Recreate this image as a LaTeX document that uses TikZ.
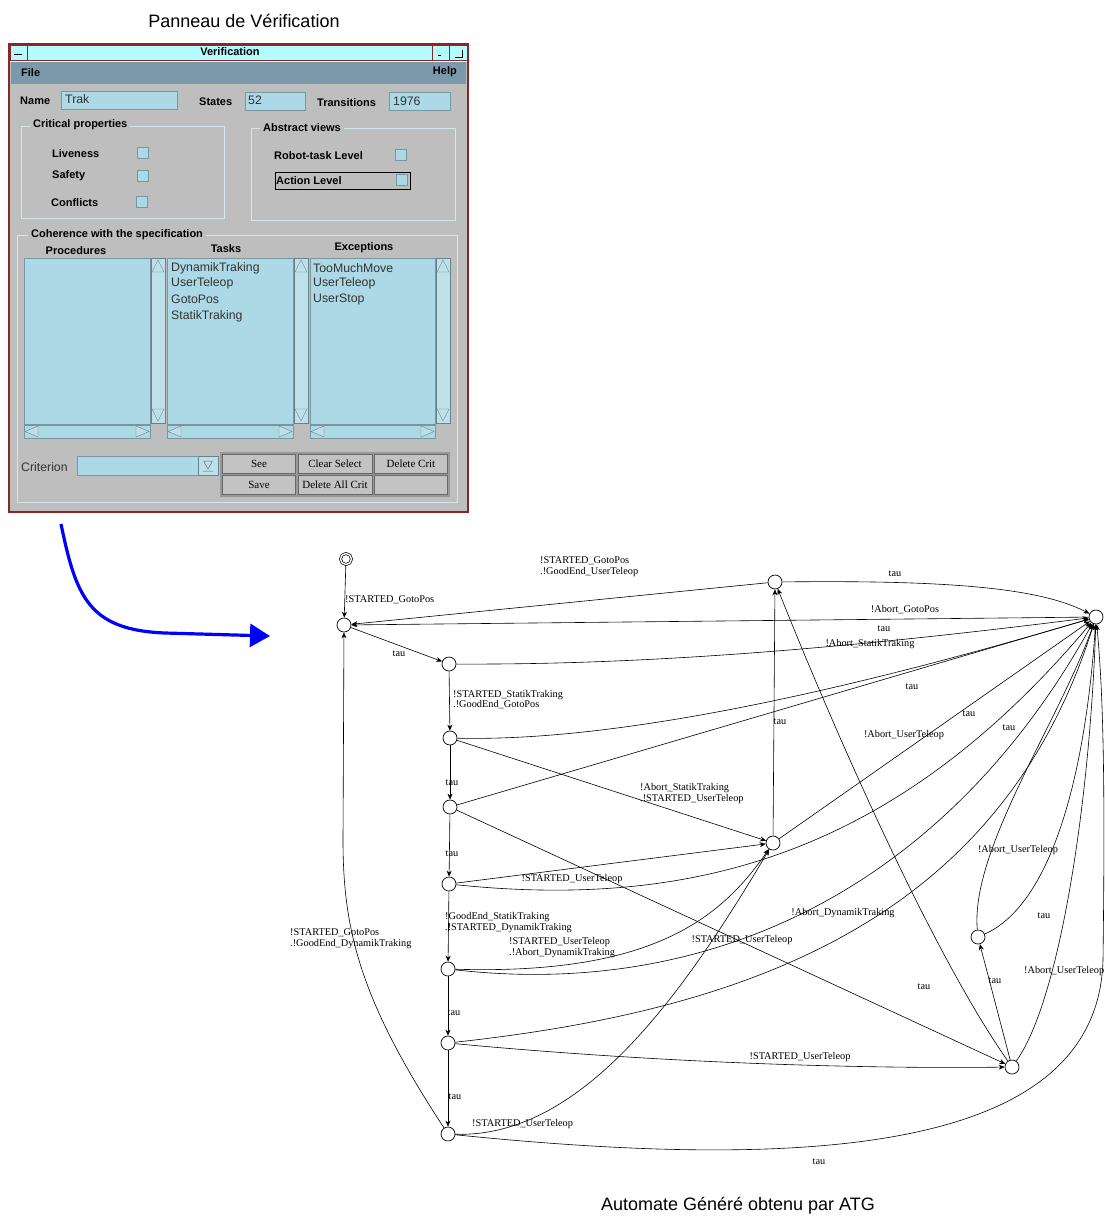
\documentclass[tikz,border=0pt]{standalone}
\usepackage{fontspec}
\setmainfont{Liberation Serif}
\setsansfont{Liberation Sans}
\usetikzlibrary{arrows.meta,calc,positioning}
\definecolor{PanelGrey}{HTML}{BEBEBE}
\definecolor{FieldBlue}{HTML}{ADD8E6}
\definecolor{TitleCyan}{HTML}{B4FCFF}
\definecolor{MenuSteel}{HTML}{7B99AB}
\definecolor{FrameRed}{HTML}{8B2626}
\definecolor{GroupLine}{HTML}{D6E6EA}
\definecolor{ArrowBlue}{HTML}{0000FF}

\begin{document}
\begin{tikzpicture}[x=1pt, y=-1pt,
    state/.style={draw, circle, minimum size=14pt, inner sep=0pt, line width=0.7pt},
    trans/.style={-{Stealth[length=6pt,width=5pt]}, line width=0.6pt},
    lbl/.style={font=\fontsize{10.3}{10.5}\selectfont, inner sep=0pt, align=left},
    gbold/.style={font=\sffamily\bfseries\fontsize{11}{12}\selectfont, inner sep=0pt},
    gitem/.style={font=\sffamily\fontsize{12.3}{14}\selectfont, inner sep=0pt, text=black!80},
    gbtn/.style={draw=PanelGrey!55!black, fill=PanelGrey!92!white, font=\fontsize{11}{12}\selectfont, inner sep=0pt},
    field/.style={draw=FieldBlue!70!black, fill=FieldBlue, line width=0.4pt},
    scrl/.style={draw=FieldBlue!60!black, fill=FieldBlue!80!white, line width=0.4pt},
    group/.style={draw=GroupLine, line width=0.9pt},
    chk/.style={field, minimum size=11pt, inner sep=0pt},
    caption/.style={font=\sffamily\fontsize{18}{20}\selectfont, inner sep=0pt}]

  \useasboundingbox[fill=white] (0,0) rectangle (1105,1219);

  % captions
  \node[caption] (capPanel) at (244,21) {Panneau de Vérification};
  \node[caption] (capAuto) at (738,1206) {Automate Généré obtenu par ATG};

  % ---------------- verification window ----------------
  \fill[PanelGrey] (10,62) rectangle (467,511);
  \draw[FrameRed, line width=1.2pt] (9,44) rectangle (468,512);
  \draw[FrameRed, fill=TitleCyan, line width=0.8pt] (10,45) rectangle (467,60);
  \draw[FrameRed, line width=0.8pt] (27,45) -- (27,60) (432,45) -- (432,60) (449,45) -- (449,60);
  \draw[black, line width=0.6pt] (14,54) -- (22,54) (438,55) -- (441,55) (455,57) -- (462,57) -- (462,50);
  \node[gbold] (winTitle) at (230,52) {Verification};
  \fill[MenuSteel] (11,62) rectangle (466,84);
  \node[gbold, anchor=west] (menuFile) at (21,73) {File};
  \node[gbold, anchor=east] (menuHelp) at (457,72) {Help};

  % name / states / transitions
  \node[gbold, anchor=west] (nameLbl) at (20,101) {Name};
  \draw[field] (61,91) rectangle (177,109);
  \node[gitem, anchor=west] (nameVal) at (65,99) {Trak};
  \node[gbold, anchor=west] (statesLbl) at (199,102) {States};
  \draw[field] (245,92) rectangle (305,110);
  \node[gitem, anchor=west] (statesVal) at (248,100) {52};
  \node[gbold, anchor=west] (transLbl) at (317,103) {Transitions};
  \draw[field] (389,92) rectangle (450,110);
  \node[gitem, anchor=west] (transVal) at (393,101) {1976};

  % critical properties
  \draw[group] (21,126) rectangle (224,218);
  \node[gbold, anchor=west, fill=PanelGrey, inner xsep=3pt] (critTitle) at (30,125) {Critical properties};
  \node[gbold, anchor=west] (liveLbl) at (52,154) {Liveness};
  \node[chk] (liveChk) at (143,153) {};
  \node[gbold, anchor=west] (safeLbl) at (52,176) {Safety};
  \node[chk] (safeChk) at (143,176) {};
  \node[gbold, anchor=west] (confLbl) at (51,203) {Conflicts};
  \node[chk] (confChk) at (142,202) {};

  % abstract views
  \draw[group] (251,128) rectangle (455,220);
  \node[gbold, anchor=west, fill=PanelGrey, inner xsep=3pt] (absTitle) at (260,128) {Abstract views};
  \node[gbold, anchor=west] (robotLbl) at (274,156) {Robot-task Level};
  \node[chk] (robotChk) at (401,155) {};
  \draw[black, line width=1pt] (275,172) rectangle (410,189);
  \node[gbold, anchor=west] (actionLbl) at (276,181) {Action Level};
  \node[chk] (actionChk) at (402,180) {};

  % coherence with the specification
  \draw[group] (17,235) rectangle (457,502);
  \node[gbold, anchor=west, fill=PanelGrey, inner xsep=3pt] (cohTitle) at (28,235) {Coherence with the specification};
  \node[gbold] (procHead) at (76,251) {Procedures};
  \node[gbold] (taskHead) at (226,249) {Tasks};
  \node[gbold] (excHead) at (364,248) {Exceptions};

  % procedures list
  \draw[field] (24,258) rectangle (150,424);
  \draw[scrl] (151,258) rectangle (165,423);
  \draw[field] (24,425) rectangle (150,438);
  \draw[scrl] (152,272) -- (158,260) -- (164,272) -- cycle (152,409) -- (158,421) -- (164,409) -- cycle;
  \draw[scrl] (38,426) -- (25,431.5) -- (38,437) -- cycle (136,426) -- (149,431.5) -- (136,437) -- cycle;
  % tasks list
  \draw[field] (167,258) rectangle (293,424);
  \draw[scrl] (294,258) rectangle (308,423);
  \draw[field] (167,425) rectangle (293,438);
  \draw[scrl] (295,272) -- (301,260) -- (307,272) -- cycle (295,409) -- (301,421) -- (307,409) -- cycle;
  \draw[scrl] (181,426) -- (168,431.5) -- (181,437) -- cycle (279,426) -- (292,431.5) -- (279,437) -- cycle;
  \node[gitem, anchor=west] (task1) at (171,268) {DynamikTraking};
  \node[gitem, anchor=west] (task2) at (171,283.5) {UserTeleop};
  \node[gitem, anchor=west] (task3) at (171,299.5) {GotoPos};
  \node[gitem, anchor=west] (task4) at (171,316) {StatikTraking};
  % exceptions list
  \draw[field] (310,258) rectangle (435,424);
  \draw[scrl] (436,258) rectangle (450,423);
  \draw[field] (310,425) rectangle (435,438);
  \draw[scrl] (437,272) -- (443,260) -- (449,272) -- cycle (437,409) -- (443,421) -- (449,409) -- cycle;
  \draw[scrl] (324,426) -- (311,431.5) -- (324,437) -- cycle (421,426) -- (434,431.5) -- (421,437) -- cycle;
  \node[gitem, anchor=west] (exc1) at (313,268) {TooMuchMove};
  \node[gitem, anchor=west] (exc2) at (313,283.5) {UserTeleop};
  \node[gitem, anchor=west] (exc3) at (313,299.5) {UserStop};

  % criterion + buttons
  \node[gitem, anchor=west] (critLbl) at (21,467) {Criterion};
  \draw[field] (77,456) rectangle (218,475);
  \draw[scrl] (198,456) rectangle (218,475);
  \draw[FieldBlue!50!black, line width=0.5pt] (203,461) -- (213,461) (204,462) -- (208,469) -- (212,462) (203,471) -- (213,471);
  \fill[PanelGrey!80!black] (220,452) rectangle (450,497);
  \node[gbtn, minimum width=73pt, minimum height=19pt] (btnSee) at (259,463.5) {See};
  \node[gbtn, minimum width=74pt, minimum height=19pt] (btnClear) at (335,463.5) {Clear Select};
  \node[gbtn, minimum width=73pt, minimum height=19pt] (btnDel) at (411,463.5) {Delete Crit};
  \node[gbtn, minimum width=73pt, minimum height=19pt] (btnSave) at (259,484.5) {Save};
  \node[gbtn, minimum width=74pt, minimum height=19pt] (btnDelAll) at (335,484.5) {Delete All Crit};
  \node[gbtn, minimum width=73pt, minimum height=19pt] (btnEmpty) at (411,484.5) {};

  % blue arrow
  \coordinate (arrStart) at (61,524);
  \coordinate (arrEnd) at (270,636);
  \draw[ArrowBlue, line width=3.2pt, -{Triangle[length=20pt,width=23pt]}]
    (arrStart) .. controls (76,596) and (88,630) .. (165,633) -- (arrEnd);

  % ---------------- automaton ----------------
  \node[state, double, double distance=1.4pt, minimum size=11pt] (init) at (346,559) {};
  \node[state] (s0) at (344,625) {};
  \node[state] (s1) at (449,664) {};
  \node[state] (s2) at (450,738) {};
  \node[state] (s3) at (450,807) {};
  \node[state] (s4) at (449,884) {};
  \node[state] (s5) at (448,969) {};
  \node[state] (s6) at (448,1043) {};
  \node[state] (s7) at (448,1134) {};
  \node[state] (sTop) at (775,582) {};
  \node[state] (sFin) at (1096,617) {};
  \node[state] (sMid) at (773,843) {};
  \node[state] (sR1) at (978,937) {};
  \node[state] (sR2) at (1012,1067) {};

  % main chain
  \draw[trans] (init) -- (s0);
  \draw[trans] (s0) -- (s1);
  \draw[trans] (s1) -- (s2);
  \draw[trans] (s2) -- (s3);
  \draw[trans] (s3) -- (s4);
  \draw[trans] (s4) -- (s5);
  \draw[trans] (s5) -- (s6);
  \draw[trans] (s6) -- (s7);
  \draw[trans] (s7) .. controls (360,1000) and (343,930) .. (343,840) -- (s0);

  % back to s0
  \draw[trans] (sTop) -- (s0);
  \draw[trans] (sFin) -- (s0);

  % into the final state
  \draw[trans] (sTop) .. controls (950,580) and (1040,588) .. (sFin);
  \draw[trans] (s1) .. controls (650,665) and (850,648) .. (sFin);
  \draw[trans] (s2) .. controls (620,742) and (850,690) .. (sFin);
  \draw[trans] (s3) -- (sFin);
  \draw[trans] (sMid) -- (sFin);
  \draw[trans] (s4) .. controls (700,910) and (900,850) .. (sFin);
  \draw[trans] (s5) .. controls (720,1000) and (950,880) .. (sFin);
  \draw[trans] (s6) .. controls (750,1010) and (1000,920) .. (sFin);
  \draw[trans] (sR1) .. controls (970,850) and (1060,720) .. (sFin);
  \draw[trans] (sR1) .. controls (1050,905) and (1085,780) .. (sFin);
  \draw[trans] (sR2) .. controls (1060,1000) and (1090,800) .. (sFin);
  \draw[trans] (s7) .. controls (820,1172) and (1098,1150) .. (1103,960)
    .. controls (1105,800) and (1104,700) .. (sFin);

  % user teleop branch
  \draw[trans] (sMid) -- (sTop);
  \draw[trans] (sR2) .. controls (930,950) and (830,720) .. (sTop);
  \draw[trans] (sR2) -- (sR1);
  \draw[trans] (s2) -- (sMid);
  \draw[trans] (s4) -- (sMid);
  \draw[trans] (s5) .. controls (650,975) and (720,920) .. (sMid);
  \draw[trans] (s7) .. controls (580,1138) and (680,1000) .. (sMid);
  \draw[trans] (s3) -- (sR2);
  \draw[trans] (s6) .. controls (650,1062) and (850,1069) .. (sR2);

  % labels
  \node[lbl, anchor=west] (lInit) at (345,600) {!STARTED\_GotoPos};
  \node[lbl] (lTau01) at (399,654) {tau};
  \node[lbl, anchor=west] (lS1S2) at (453,699.5) {!STARTED\_StatikTraking\\.!GoodEnd\_GotoPos};
  \node[lbl] (lTau23) at (452,783) {tau};
  \node[lbl] (lTau34) at (452,854) {tau};
  \node[lbl, anchor=west] (lS4S5) at (445,922.5) {!GoodEnd\_StatikTraking\\.!STARTED\_DynamikTraking};
  \node[lbl] (lTau56) at (454,1013) {tau};
  \node[lbl] (lTau67) at (455,1097) {tau};
  \node[lbl, anchor=west] (lBack) at (290,938.5) {!STARTED\_GotoPos\\.!GoodEnd\_DynamikTraking};
  \node[lbl, anchor=west] (lTopS0) at (540,566.5) {!STARTED\_GotoPos\\.!GoodEnd\_UserTeleop};
  \node[lbl] (lTauTop) at (895,574) {tau};
  \node[lbl] (lAbGoto) at (905,610) {!Abort\_GotoPos};
  \node[lbl] (lAbStat) at (870,644) {!Abort\_StatikTraking};
  \node[lbl] (lTauA) at (884,629) {tau};
  \node[lbl] (lTauB) at (912,687) {tau};
  \node[lbl] (lTauC) at (780,722) {tau};
  \node[lbl] (lTauD) at (969,714) {tau};
  \node[lbl] (lAbUserA) at (904,735) {!Abort\_UserTeleop};
  \node[lbl] (lTauE) at (1009,728) {tau};
  \node[lbl, anchor=west] (lS2Mid) at (640,793.5) {!Abort\_StatikTraking\\.!STARTED\_UserTeleop};
  \node[lbl] (lS4Mid) at (572,879) {!STARTED\_UserTeleop};
  \node[lbl, anchor=west] (lS5Mid) at (509,947.5) {!STARTED\_UserTeleop\\.!Abort\_DynamikTraking};
  \node[lbl] (lS3R2) at (742,940) {!STARTED\_UserTeleop};
  \node[lbl] (lAbDyn) at (843,913) {!Abort\_DynamikTraking};
  \node[lbl] (lAbUserB) at (1018,850) {!Abort\_UserTeleop};
  \node[lbl] (lTauR1) at (1044,916) {tau};
  \node[lbl, anchor=west] (lAbUserC) at (1024,971) {!Abort\_UserTeleop};
  \node[lbl] (lTauR2R1) at (995,981) {tau};
  \node[lbl] (lTauR2Top) at (924,987) {tau};
  \node[lbl] (lS6R2) at (800,1057) {!STARTED\_UserTeleop};
  \node[lbl, anchor=west] (lS7Mid) at (472,1124) {!STARTED\_UserTeleop};
  \node[lbl] (lTauS7) at (819,1162) {tau};
\end{tikzpicture}
\end{document}
